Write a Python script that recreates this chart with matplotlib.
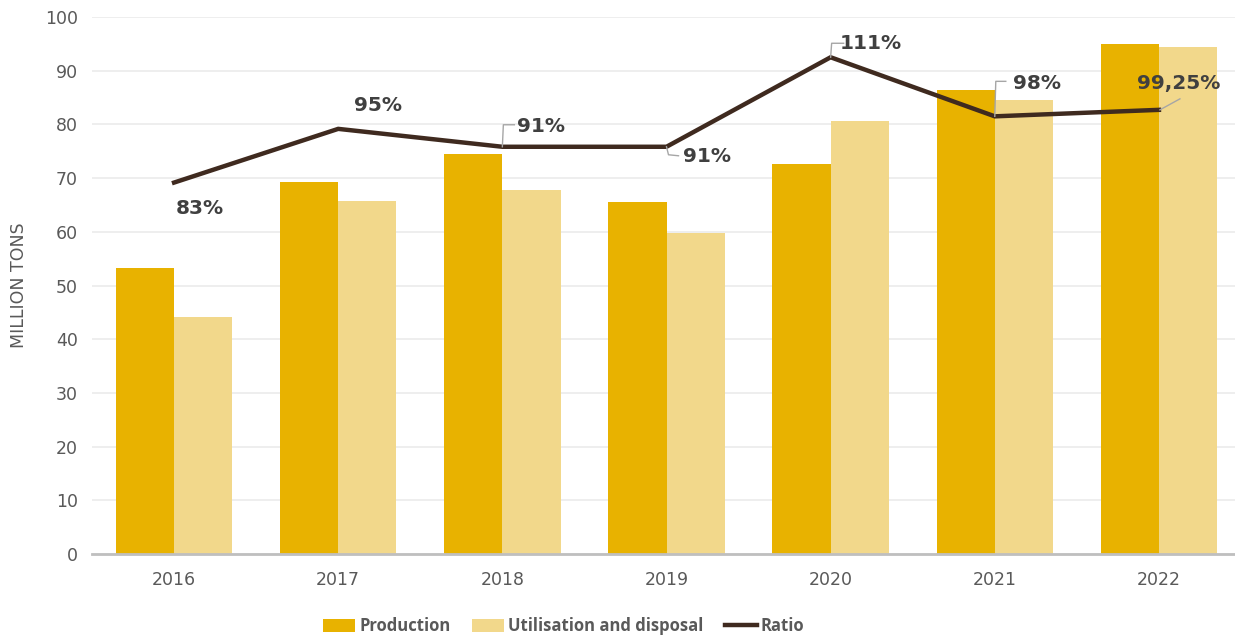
import matplotlib
matplotlib.use("Agg")
import matplotlib.pyplot as plt
import matplotlib.transforms as mtransforms
from matplotlib.lines import Line2D
import numpy as np

years = ["2016", "2017", "2018", "2019", "2020", "2021", "2022"]
production = [53.3, 69.3, 74.5, 65.6, 72.6, 86.4, 95.0]
utilisation = [44.1, 65.8, 67.8, 59.8, 80.6, 84.5, 94.4]
ratio = [83, 95, 91, 91, 111, 97.8, 99.25]
ratio_labels = ["83%", "95%", "91%", "91%", "111%", "98%", "99,25%"]
yticks = [0, 10, 20, 30, 40, 50, 60, 70, 80, 90, 100]

C_PROD = "#E8B200"
C_UTIL = "#F2D88B"
C_LINE = "#3F2A1F"
C_TXT = "#595959"
C_LAB = "#404040"
FONT = "DejaVu Sans"
LEGFONT = ["Liberation Sans Narrow", "Open Sans"]

fig = plt.figure(figsize=(12.35, 6.41), dpi=100)
ax = fig.add_axes([92 / 1235, 0.1357, 1149 / 1235, 0.8378])
x = np.arange(len(years))
w = 0.355
ax.bar(x - w / 2, production, w, color=C_PROD, label="Production", zorder=2)
ax.bar(x + w / 2, utilisation, w, color=C_UTIL, label="Utilisation and disposal", zorder=2)
ax.set_ylim(0, 100)
ax.set_xlim(-0.5, 6.5)
ax.set_yticks(yticks)
ax.set_xticks(x)
ax.set_xticklabels(years)
ax.grid(axis="y", color="#EBEBEB", linewidth=1.2, zorder=0)
ax.set_axisbelow(True)
for s in ["top", "right", "left"]:
    ax.spines[s].set_visible(False)
ax.spines["bottom"].set_color("#BFBFBF")
ax.spines["bottom"].set_linewidth(2)
ax.tick_params(axis="both", length=0, labelsize=12.5, labelcolor=C_TXT, pad=10)
ax.tick_params(axis="x", pad=12)
for lab in ax.get_xticklabels() + ax.get_yticklabels():
    lab.set_fontfamily(FONT)
ax.set_ylabel("MILLION TONS", fontsize=12.5, color=C_TXT, family=FONT, labelpad=12)

ax2 = ax.twinx()
ax2.plot(x, ratio, color=C_LINE, linewidth=3.2, label="Ratio", zorder=5,
         solid_joinstyle="miter")
ax2.set_ylim(0, 120)
ax2.axis("off")

# label offsets (pixels) and leader polylines (pixels relative to point)
offsets = [(26, -26), (40, 23), (39, 20), (40, -10), (40, 14), (42, 33), (20, 26)]
leaders = [None, None,
           [(0, 0), (1, 22), (12, 22)],
           [(0, 0), (2, -8), (12, -9)],
           [(0, 0), (1, 14), (13, 14)],
           [(0, 0), (1, 35), (11, 35)],
           [(1, 0), (21, 11)]]
for i in range(len(years)):
    ax2.annotate(ratio_labels[i], (x[i], ratio[i]), xytext=offsets[i],
                 textcoords="offset pixels", ha="center", va="center",
                 fontsize=14.5, fontweight="bold", color=C_LAB, family=FONT,
                 zorder=6)
    if leaders[i] is not None:
        vx = [p[0] for p in leaders[i]]
        vy = [p[1] for p in leaders[i]]
        tr = mtransforms.ScaledTranslation(x[i], ratio[i], ax2.transData)
        ln = Line2D(vx, vy, color="#A6A6A6", linewidth=1.0, transform=tr,
                    clip_on=False, zorder=4)
        fig.add_artist(ln)

h1, l1 = ax.get_legend_handles_labels()
h2, l2 = ax2.get_legend_handles_labels()
leg = fig.legend(h1 + h2, l1 + l2, loc="center", bbox_to_anchor=(564 / 1235, 1 - 626 / 641),
                 ncol=3, frameon=False, handlelength=1.9, handleheight=0.8,
                 handletextpad=0.25, columnspacing=1.3,
                 prop={"family": LEGFONT, "weight": "bold", "size": 12})
for t in leg.get_texts():
    t.set_color(C_TXT)

fig.savefig("out.png", dpi=100)
